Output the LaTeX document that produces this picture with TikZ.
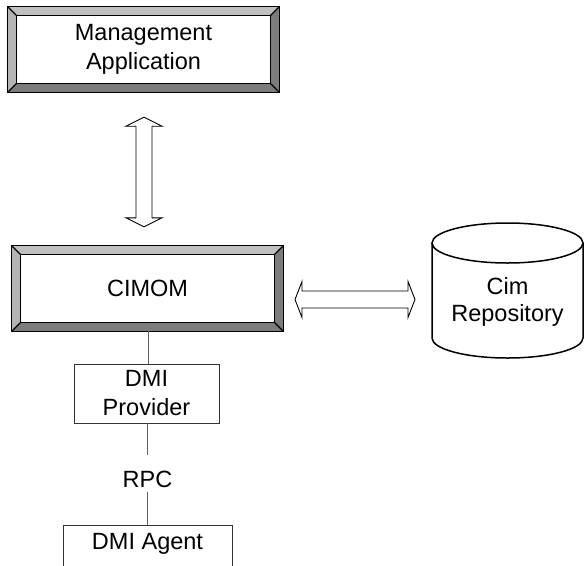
\documentclass[tikz,border=0pt]{standalone}
\usepackage{fontspec}
\setmainfont{Liberation Sans}
\usetikzlibrary{calc}
\definecolor{bevtopc}{HTML}{C0C0C0}
\definecolor{bevleftc}{HTML}{B4B4B4}
\definecolor{bevdarkc}{HTML}{7C7C7C}
\definecolor{connc}{HTML}{606060}
\newcommand\bevelize[2]{%
  \fill[bevtopc] (#1.north west) -- (#1.north east) -- ($(#1.north east)+(-#2,#2)$) -- ($(#1.north west)+(#2,#2)$) -- cycle;
  \fill[bevleftc] (#1.north west) -- ($(#1.north west)+(#2,#2)$) -- ($(#1.south west)+(#2,-#2)$) -- (#1.south west) -- cycle;
  \fill[bevdarkc] (#1.south west) -- ($(#1.south west)+(#2,-#2)$) -- ($(#1.south east)+(-#2,-#2)$) -- (#1.south east) -- cycle;
  \fill[bevdarkc] (#1.north east) -- (#1.south east) -- ($(#1.south east)+(-#2,-#2)$) -- ($(#1.north east)+(-#2,#2)$) -- cycle;
  \draw[bevline] (#1.north west) rectangle (#1.south east);
  \draw[bevline] ($(#1.north west)+(#2,#2)$) rectangle ($(#1.south east)+(-#2,-#2)$);
  \draw[bevline] (#1.north west) -- ($(#1.north west)+(#2,#2)$);
  \draw[bevline] (#1.north east) -- ($(#1.north east)+(-#2,#2)$);
  \draw[bevline] (#1.south west) -- ($(#1.south west)+(#2,-#2)$);
  \draw[bevline] (#1.south east) -- ($(#1.south east)+(-#2,-#2)$);
}
\begin{document}
\begin{tikzpicture}[x=1pt,y=-1pt,
  lbl/.style={font=\fontsize{23.5}{29}\selectfont, align=center},
  bevelnode/.style={minimum width=271, minimum height=85, inner sep=0, lbl},
  bevline/.style={draw=black, line width=1.1},
  plainbox/.style={draw=black!80, fill=white, line width=0.9, inner sep=0, lbl},
  conn/.style={draw=connc, line width=1},
  fatarrow/.style={draw=black, fill=white, line width=0.9, line join=miter},
  cylline/.style={draw=black, fill=white, line width=1.5}]
\useasboundingbox (0,0) rectangle (585,565);
\clip (0,0) rectangle (585,565);

% Management Application
\node[bevelnode] (mgmt) at (143.5,49.5) {};
\bevelize{mgmt}{9}
\node[lbl] (mgmtt) at (mgmt.center) {Management\\Application};

% CIMOM
\node[bevelnode] (cimom) at (147.5,288.5) {};
\bevelize{cimom}{9}
\node[lbl] (cimomt) at (cimom.center) {CIMOM};

% vertical double arrow
\coordinate (va) at ($(mgmt.south)+(0.5,25)$);
\coordinate (vb) at ($(cimom.north)+(-3.5,-19)$);
\draw[fatarrow] (va) -- ($(va)+(18,9)$) -- ($(va)+(8,9)$) -- ($(vb)+(8,-9)$) -- ($(vb)+(18,-9)$) -- (vb)
  -- ($(vb)+(-18,-9)$) -- ($(vb)+(-8,-9)$) -- ($(va)+(-8,9)$) -- ($(va)+(-18,9)$) -- cycle;

% Cim Repository cylinder
\draw[cylline] (432,243) -- (432,338) arc[start angle=180, end angle=0, x radius=75.5, y radius=20] -- (583,243);
\draw[cylline] (507.5,243) ellipse [x radius=75.5, y radius=20];
\node[lbl, font=\fontsize{23.5}{27.5}\selectfont] (repo) at (507.5,302) {Cim\\Repository};

% horizontal double arrow
\coordinate (ha) at (295,299.5);
\coordinate (hb) at (415,299.5);
\draw[fatarrow] (ha) -- ($(ha)+(7,-18)$) -- ($(ha)+(7,-8.5)$) -- ($(hb)+(-7,-8.5)$) -- ($(hb)+(-7,-18)$) -- (hb)
  -- ($(hb)+(-7,18)$) -- ($(hb)+(-7,8.5)$) -- ($(ha)+(7,8.5)$) -- ($(ha)+(7,18)$) -- cycle;

% DMI Provider
\node[plainbox, minimum width=145, minimum height=59] (prov) at (146.5,393.5) {DMI\\Provider};
% RPC
\node[lbl, text height=32, text depth=5, inner ysep=0] (rpc) at (147.5,473.5) {RPC};
% DMI Agent
\node[plainbox, anchor=north, minimum width=169, text height=17, text depth=40, inner ysep=7] (agent) at (147.5,525) {DMI Agent};

\draw[conn] ($(cimom.south)+(0.5,0)$) -- ($(prov.north)+(1.5,0)$);
\draw[conn] (prov.south -| rpc.south) -- (rpc.north);
\draw[conn] (rpc.south) -- (agent.north);
\end{tikzpicture}
\end{document}
